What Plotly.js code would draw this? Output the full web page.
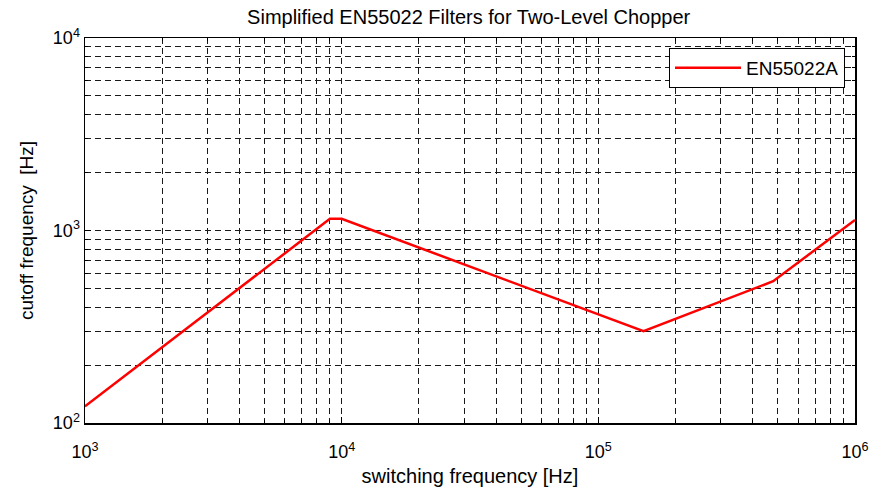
<!DOCTYPE html>
<html>
<head>
<meta charset="utf-8">
<script src="https://cdn.plot.ly/plotly-3.0.1.min.js"></script>
<style>html,body{margin:0;padding:0;background:#fff;}#chart{width:881px;height:495px;}</style>
</head>
<body>
<div id="chart"></div>
<script>
var switchingFreq = [1000, 9000, 10000, 150000, 480000, 1000000];
var cutoffFreq = [122, 1150, 1150, 300, 545, 1135];
var seriesName = 'EN55022A';
var xTickVals = [1e3, 1e4, 1e5, 1e6];
var xTickText = ['10<sup>3</sup>', '10<sup>4</sup>', '10<sup>5</sup>', '10<sup>6</sup>'];
var yTickVals = [1e2, 1e3, 1e4];
var yTickText = ['10<sup>2</sup>', '10<sup>3</sup>', '10<sup>4</sup>'];

var fontFam = 'Liberation Sans, Arial, sans-serif';
var gridDash = '6px,4px';
var gridCol = '#1a1a1a';

function axisCfg(tv, tt, range, title, titleSize) {
  return {
    type: 'log',
    range: range,
    tickmode: 'array',
    tickvals: tv,
    ticktext: tt,
    ticks: 'inside',
    ticklen: 6,
    tickcolor: '#000',
    showline: true,
    linecolor: '#000',
    linewidth: 1.5,
    mirror: 'allticks',
    showgrid: true,
    gridcolor: gridCol,
    gridwidth: 1,
    griddash: gridDash,
    zeroline: false,
    tickfont: {family: fontFam, size: 18, color: '#000'},
    title: {text: title, font: {family: fontFam, size: titleSize, color: '#000'}},
    minor: {
      dtick: 'D1',
      ticks: 'inside',
      ticklen: 3,
      tickcolor: '#000',
      showgrid: true,
      gridcolor: gridCol,
      gridwidth: 1,
      griddash: gridDash
    }
  };
}

var trace = {
  x: switchingFreq,
  y: cutoffFreq,
  type: 'scatter',
  mode: 'lines',
  name: seriesName,
  line: {color: '#ff0000', width: 2.5}
};

var xa = axisCfg(xTickVals, xTickText, [3, 6], 'switching frequency [Hz]', 20);
xa.ticklabelstandoff = 12;
xa.title.standoff = 8;
var ya = axisCfg(yTickVals, yTickText, [2, 4], 'cutoff frequency  [Hz]', 19);
ya.ticklabelstandoff = 0;
ya.title.standoff = 14;

var layout = {
  width: 881,
  height: 495,
  margin: {l: 85, r: 26, t: 38, b: 72},
  paper_bgcolor: '#fff',
  plot_bgcolor: '#fff',
  title: {text: 'Simplified EN55022 Filters for Two-Level Chopper', font: {family: fontFam, size: 20, color: '#000'}, x: 0.532, xanchor: 'center', y: 0.965, yanchor: 'middle'},
  xaxis: xa,
  yaxis: ya,
  showlegend: true,
  legend: {
    x: 0.987, xanchor: 'right', y: 0.974, yanchor: 'top',
    bgcolor: '#fff', bordercolor: '#000', borderwidth: 1,
    font: {family: fontFam, size: 19, color: '#000'},
    itemwidth: 66
  }
};

Plotly.newPlot('chart', [trace], layout, {displayModeBar: false, staticPlot: true});
</script>
</body>
</html>
